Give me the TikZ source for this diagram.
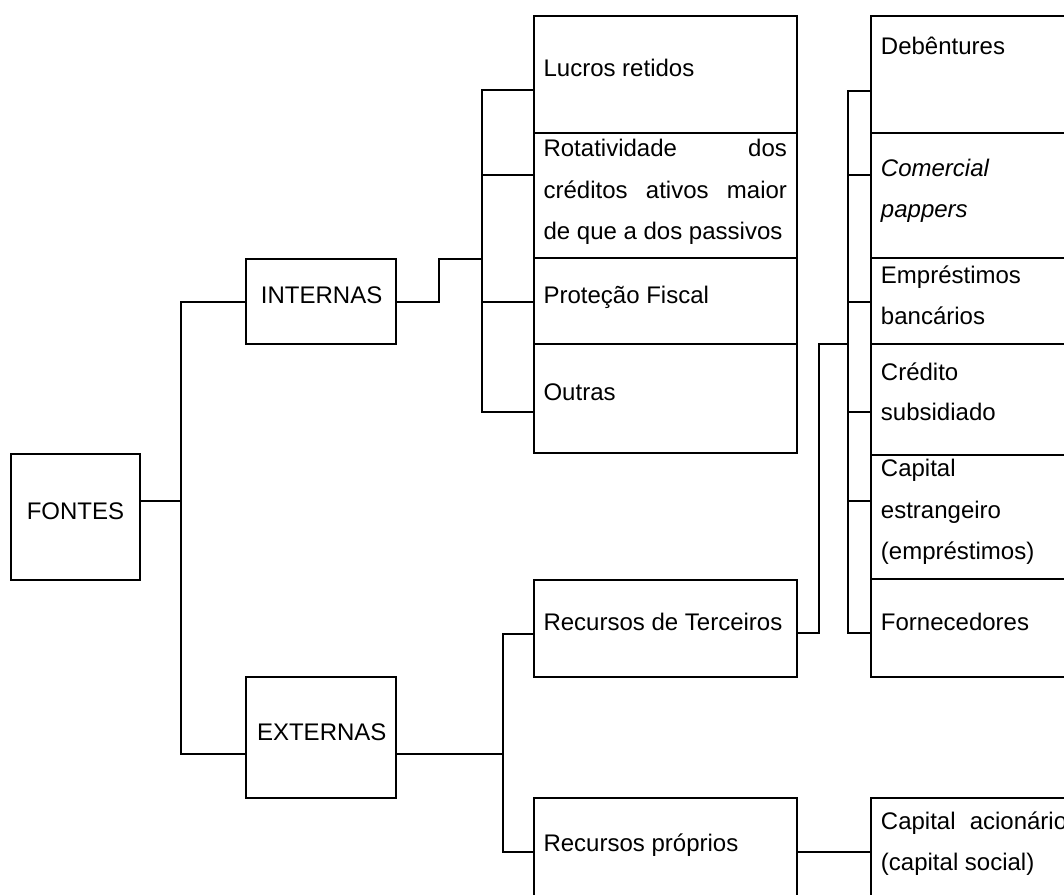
\documentclass[tikz,border=0pt]{standalone}
\usepackage{fontspec}
\setmainfont{Liberation Sans}
\usetikzlibrary{fit}
\begin{document}
\begin{tikzpicture}[x=0.75pt,y=-0.75pt,
  box/.style={draw,line width=1.5pt,rectangle,inner sep=0pt},
  conn/.style={line width=1.5pt},
  txt/.style={inner sep=0pt,anchor=base west,font=\fontsize{18pt}{30.9pt}\selectfont}]
\useasboundingbox (0,0) rectangle (1064,895);
\clip (0,0) rectangle (1064,895);
% boxes
\node[box,fit={(10.7,453.7) (139.5,580)}] (fontes) {};
\node[box,fit={(245.5,259) (396,344)}] (internas) {};
\node[box,fit={(245.9,676.7) (396,798)}] (externas) {};
\node[box,fit={(533.7,15.7) (797.3,132.7)}] (lucros) {};
\node[box,fit={(533.7,132.7) (797.3,258.3)}] (rotat) {};
\node[box,fit={(533.7,258.3) (797.3,343.7)}] (protecao) {};
\node[box,fit={(533.7,343.7) (797.3,453.3)}] (outras) {};
\node[box,fit={(533.7,580) (797,676.7)}] (terceiros) {};
\node[box,fit={(533.7,798.3) (797,905)}] (proprios) {};
\node[box,fit={(870.7,15.7) (1075,132.7)}] (debentures) {};
\node[box,fit={(870.7,132.7) (1075,258.3)}] (comercial) {};
\node[box,fit={(870.7,258.3) (1075,343.7)}] (emprestimos) {};
\node[box,fit={(870.7,343.7) (1075,455)}] (credito) {};
\node[box,fit={(870.7,455) (1075,579.3)}] (capest) {};
\node[box,fit={(870.7,579.3) (1075,676.7)}] (fornecedores) {};
\node[box,fit={(870.7,798.3) (1075,905)}] (acionario) {};
% texts
\node[txt] (tfontes) at (26.5,519.3) {FONTES};
\node[txt] (tinternas) at (260.7,303.3) {INTERNAS};
\node[txt] (texternas) at (256.8,740) {EXTERNAS};
\node[txt] (tlucros) at (543.3,76.5) {Lucros retidos};
\node[txt] (trot1) at (543.3,157) {\makebox[243.4\dimexpr0.75pt\relax][s]{Rotatividade\hfill dos}};
\node[txt] (trot2) at (543.3,198.3) {\makebox[243.4\dimexpr0.75pt\relax][s]{créditos\hfill ativos\hfill maior}};
\node[txt] (trot3) at (543.3,239.5) {de que a dos passivos};
\node[txt] (tprot) at (543.3,303.3) {Proteção Fiscal};
\node[txt] (toutras) at (543.3,400) {Outras};
\node[txt] (tterc) at (543.3,630.7) {Recursos de Terceiros};
\node[txt] (tprop) at (543.3,851) {Recursos próprios};
\node[txt] (tdeb) at (880.7,55) {Debêntures};
\node[txt] (tcom1) at (880.7,176.7) {\itshape Comercial};
\node[txt] (tcom2) at (880.7,218) {\itshape pappers};
\node[txt] (temp1) at (880.7,283.3) {Empréstimos};
\node[txt] (temp2) at (880.7,324.3) {bancários};
\node[txt] (tcre1) at (880.7,380) {Crédito};
\node[txt] (tcre2) at (880.7,420.8) {subsidiado};
\node[txt] (tcap1) at (880.7,476.7) {Capital};
\node[txt] (tcap2) at (880.7,518) {estrangeiro};
\node[txt] (tcap3) at (880.7,559.3) {(empréstimos)};
\node[txt] (tforn) at (880.7,630.7) {Fornecedores};
\node[txt] (tac1) at (880.7,829.3) {Capital};
\node[txt] (tac1b) at (969.5,829.3) {acionário};
\node[txt] (tac2) at (880.7,870.6) {(capital social)};
% junction coordinates
\coordinate (j1) at (181,500.7);
\coordinate (j2) at (482,259);
\coordinate (j3) at (503,754.3);
\coordinate (j4) at (848.3,344.3);
% FONTES -> INTERNAS / EXTERNAS
\draw[conn] (fontes.east |- j1) -- (j1);
\draw[conn] (internas.west |- 0,301.7) -- (j1 |- 0,301.7) -- (j1 |- 0,754.3) -- (externas.west |- 0,754.3);
% INTERNAS -> bracket
\draw[conn] (internas.east |- 0,301.7) -- (439,301.7) -- (439,259) -- (j2);
\draw[conn] (lucros.west |- 0,90) -- (j2 |- 0,90) -- (j2 |- 0,411.7) -- (outras.west |- 0,411.7);
\draw[conn] (j2 |- 0,175) -- (rotat.west |- 0,175);
\draw[conn] (j2 |- 0,301.7) -- (protecao.west |- 0,301.7);
% EXTERNAS -> Terceiros / Proprios
\draw[conn] (externas.east |- j3) -- (j3);
\draw[conn] (terceiros.west |- 0,634) -- (j3 |- 0,634) -- (j3 |- 0,852) -- (proprios.west |- 0,852);
% Terceiros -> bracket
\draw[conn] (terceiros.east |- 0,633.3) -- (818.5,633.3) -- (818.5,344.3) -- (j4);
\draw[conn] (debentures.west |- 0,90.7) -- (j4 |- 0,90.7) -- (j4 |- 0,633.3) -- (fornecedores.west |- 0,633.3);
\draw[conn] (j4 |- 0,175) -- (comercial.west |- 0,175);
\draw[conn] (j4 |- 0,301.7) -- (emprestimos.west |- 0,301.7);
\draw[conn] (j4 |- 0,412.3) -- (credito.west |- 0,412.3);
\draw[conn] (j4 |- 0,501) -- (capest.west |- 0,501);
% Proprios -> Capital acionario
\draw[conn] (proprios.east |- 0,851.7) -- (acionario.west |- 0,851.7);
\end{tikzpicture}
\end{document}
